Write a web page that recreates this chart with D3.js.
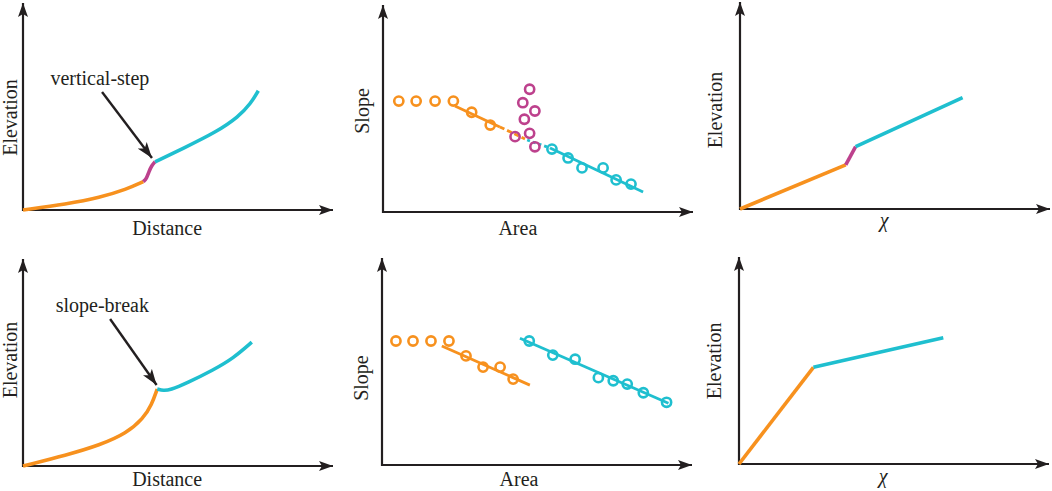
<!DOCTYPE html>
<html>
<head>
<meta charset="utf-8">
<script src="https://cdn.jsdelivr.net/npm/d3@7"></script>
<style>
  body { margin: 0; background: #fff; }
  svg { display: block; }
  text { font-family: "Liberation Serif", "Times New Roman", serif; fill: #231f20; }
</style>
</head>
<body>
<svg id="chart"></svg>
<script>
// all values are in % of each axis length (x to the right, y upward)

// top row: vertical-step knickpoint
const stepProfileOrange = [[0, 0], [14.1, 2.9], [24.8, 6.0], [33.4, 10.0], [38.8, 13.7]];
const stepProfileMagenta = [[38.8, 13.7], [39.9, 15.3], [40.6, 18.5], [41.5, 21.4], [42.6, 23.3]];
const stepProfileCyan = [[42.6, 23.3], [51.7, 29.8], [62.5, 37.8], [69.5, 45.0], [73.5, 51.5], [75.9, 57.6]];

const stepSlopeOrange = [[5.1, 53.6], [10.7, 53.6], [16.8, 53.6], [22.7, 53.6], [28.6, 48.2], [34.6, 42.0]];
const stepSlopeMagenta = [[47.3, 59.3], [45.1, 52.8], [49.0, 48.8], [45.6, 44.8], [47.3, 38.0], [42.6, 36.4], [49.0, 31.5]];
const stepSlopeCyan = [[54.5, 30.4], [59.7, 26.1], [64.2, 21.3], [71.0, 21.3], [75.2, 15.5], [80.0, 13.5]];
const stepFitOrange = [[23.2, 51.2], [37.7, 41.1]];
const stepFitOrangeDash = [[37.7, 41.1], [45.8, 35.3]];
const stepFitCyanDash = [[46.5, 34.8], [53.9, 30.9]];
const stepFitCyan = [[53.9, 30.9], [83.9, 9.7]];

const stepChiOrange = [[0, 0], [34.1, 21.3]];
const stepChiMagenta = [[34.1, 21.3], [37.3, 30.1]];
const stepChiCyan = [[37.3, 30.1], [71.8, 53.8]];

// bottom row: slope-break knickpoint
const breakProfileOrange = [[0, 0], [14.1, 5.3], [24.8, 10.1], [33.4, 15.8], [38.8, 23.0], [41.5, 29.5], [43.3, 37.2]];
const breakProfileCyan = [[43.3, 37.2], [45.3, 36.4], [47.4, 36.7], [52.8, 40.0], [61.4, 46.4], [67.8, 52.0], [73.8, 59.8]];

const breakSlopeOrange = [[4.5, 59.9], [10.0, 59.9], [15.8, 59.9], [21.6, 59.9], [27.1, 52.7], [32.6, 47.3], [38.1, 47.3], [42.3, 41.5]];
const breakSlopeCyan = [[47.5, 59.9], [55.1, 53.1], [62.3, 51.1], [69.8, 42.2], [74.6, 40.7], [79.1, 39.1], [84.3, 34.9], [91.8, 30.3]];
const breakFitOrange = [[19.3, 57.5], [47.7, 38.6]];
const breakFitCyan = [[44.5, 61.2], [92.4, 29.8]];

const breakChiOrange = [[0, 0], [24.0, 46.7]];
const breakChiCyan = [[24.0, 46.7], [65.9, 61.0]];

// annotations: label position, arrow start, arrow end
const stepNote = { text: "vertical-step", at: [24.8, 60.4], from: [25.5, 57.0], to: [41.6, 25.1] };
const breakNote = { text: "slope-break", at: [25.6, 74.5], from: [28.1, 71.0], to: [43.1, 39.1] };

const orange = "#f7911e";
const cyan = "#1fbfcf";
const magenta = "#bd418d";
const ink = "#231f20";

const svg = d3.select("#chart").attr("width", 1052).attr("height", 491);

const defs = svg.append("defs");
defs.append("marker")
  .attr("id", "axisHead")
  .attr("markerUnits", "userSpaceOnUse")
  .attr("viewBox", "-14 -6 15 12")
  .attr("refX", 0).attr("refY", 0)
  .attr("markerWidth", 15).attr("markerHeight", 12)
  .attr("orient", "auto")
  .append("path")
  .attr("d", "M0,0L-14,-5L-11,0L-14,5Z")
  .attr("fill", ink);
defs.append("marker")
  .attr("id", "noteHead")
  .attr("markerUnits", "userSpaceOnUse")
  .attr("viewBox", "-16 -6 17 12")
  .attr("refX", 0).attr("refY", 0)
  .attr("markerWidth", 17).attr("markerHeight", 12)
  .attr("orient", "auto")
  .append("path")
  .attr("d", "M0,0L-16,-5.5L-12,0L-16,5.5Z")
  .attr("fill", ink);

const panels = [
  { ox: 23, oy: 210, xLabel: "Distance", yLabel: "Elevation", yLabelDx: 6, yLabelAt: 44.7, xLabelAt: 46.5, xLabelDy: 25,
    curves: [[stepProfileOrange, orange], [stepProfileMagenta, magenta], [stepProfileCyan, cyan]], note: stepNote },
  { ox: 383, oy: 212, xLabel: "Area", yLabel: "Slope", yLabelDx: 14, yLabelAt: 48.8, xLabelAt: 43.5, xLabelDy: 23,
    fits: [[stepFitOrange, orange, null], [stepFitOrangeDash, orange, "5,3"], [stepFitCyanDash, cyan, "3,3"], [stepFitCyan, cyan, null]],
    dots: [[stepSlopeOrange, orange], [stepSlopeMagenta, magenta], [stepSlopeCyan, cyan]] },
  { ox: 740, oy: 209, xLabel: "\u03c7", yLabel: "Elevation", yLabelDx: 18, yLabelAt: 47.8, xLabelAt: 46.5, xLabelDy: 18, italic: true,
    curves: [[stepChiOrange, orange], [stepChiMagenta, magenta], [stepChiCyan, cyan]] },
  { ox: 23, oy: 466, xLabel: "Distance", yLabel: "Elevation", yLabelDx: 6, yLabelAt: 51.2, xLabelAt: 46.5, xLabelDy: 20,
    curves: [[breakProfileOrange, orange], [breakProfileCyan, cyan]], note: breakNote },
  { ox: 382, oy: 465, xLabel: "Area", yLabel: "Slope", yLabelDx: 14, yLabelAt: 42.0, xLabelAt: 44.2, xLabelDy: 21,
    fits: [[breakFitOrange, orange, null], [breakFitCyan, cyan, null]],
    dots: [[breakSlopeOrange, orange], [breakSlopeCyan, cyan]] },
  { ox: 739, oy: 464, xLabel: "\u03c7", yLabel: "Elevation", yLabelDx: 18, yLabelAt: 49.8, xLabelAt: 46.5, xLabelDy: 19, italic: true,
    curves: [[breakChiOrange, orange], [breakChiCyan, cyan]] }
];

panels.forEach((p) => {
  const x = d3.scaleLinear().domain([0, 100]).range([p.ox, p.ox + 310]);
  const y = d3.scaleLinear().domain([0, 100]).range([p.oy, p.oy - 207]);
  const g = svg.append("g");

  const curve = d3.line()
    .x((d) => x(d[0]))
    .y((d) => y(d[1]))
    .curve(d3.curveBasis);
  const straight = d3.line()
    .x((d) => x(d[0]))
    .y((d) => y(d[1]));

  // axes with arrow tips
  g.append("line")
    .attr("x1", x(0)).attr("y1", y(0) + 1)
    .attr("x2", x(0)).attr("y2", y(100))
    .attr("stroke", ink).attr("stroke-width", 2.2)
    .attr("marker-end", "url(#axisHead)");
  g.append("line")
    .attr("x1", x(0) - 1).attr("y1", y(0))
    .attr("x2", x(100)).attr("y2", y(0))
    .attr("stroke", ink).attr("stroke-width", 2.2)
    .attr("marker-end", "url(#axisHead)");

  g.append("text")
    .attr("x", x(p.xLabelAt))
    .attr("y", y(0) + p.xLabelDy)
    .attr("text-anchor", "middle")
    .attr("font-size", 20)
    .attr("font-style", p.italic ? "italic" : null)
    .text(p.xLabel);
  g.append("text")
    .attr("transform", `translate(${x(0) - p.yLabelDx},${y(p.yLabelAt)}) rotate(-90)`)
    .attr("text-anchor", "middle")
    .attr("font-size", 20)
    .text(p.yLabel);

  (p.curves || []).forEach(([pts, color]) => {
    g.append("path")
      .datum(pts)
      .attr("fill", "none")
      .attr("stroke", color)
      .attr("stroke-width", 3.6)
      .attr("d", curve);
  });

  (p.fits || []).forEach(([pts, color, dash]) => {
    g.append("path")
      .datum(pts)
      .attr("fill", "none")
      .attr("stroke", color)
      .attr("stroke-width", 2.8)
      .attr("stroke-dasharray", dash)
      .attr("d", straight);
  });

  (p.dots || []).forEach(([pts, color]) => {
    g.selectAll(null)
      .data(pts)
      .enter()
      .append("circle")
      .attr("cx", (d) => x(d[0]))
      .attr("cy", (d) => y(d[1]))
      .attr("r", 4.6)
      .attr("fill", "none")
      .attr("stroke", color)
      .attr("stroke-width", 2.6);
  });

  if (p.note) {
    g.append("line")
      .attr("x1", x(p.note.from[0])).attr("y1", y(p.note.from[1]))
      .attr("x2", x(p.note.to[0])).attr("y2", y(p.note.to[1]))
      .attr("stroke", ink).attr("stroke-width", 2.4)
      .attr("marker-end", "url(#noteHead)");
    g.append("text")
      .attr("x", x(p.note.at[0]))
      .attr("y", y(p.note.at[1]))
      .attr("text-anchor", "middle")
      .attr("font-size", 20)
      .text(p.note.text);
  }
});
</script>
</body>
</html>
